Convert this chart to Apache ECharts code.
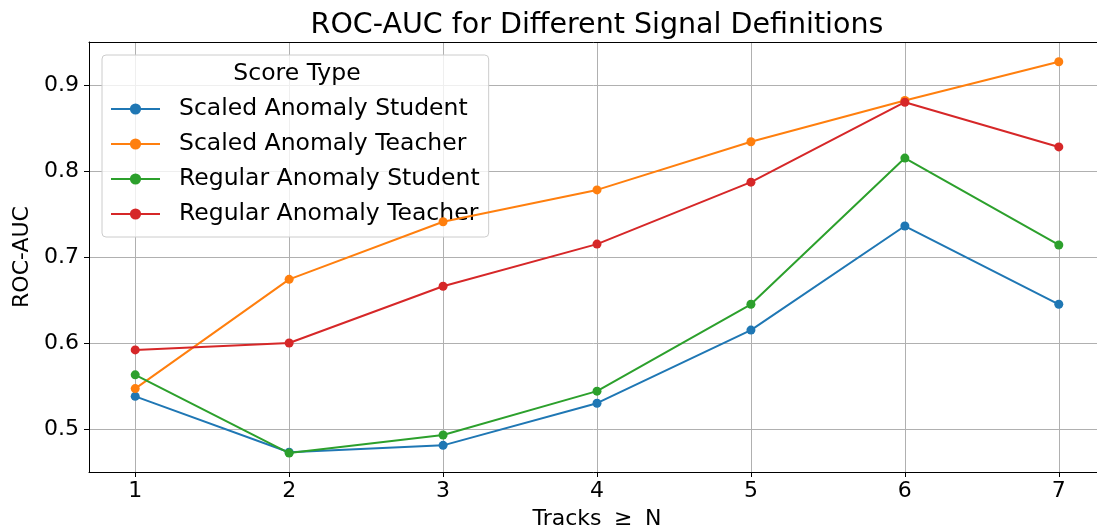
<!DOCTYPE html>
<html>
<head>
<meta charset="utf-8">
<script src="https://cdn.jsdelivr.net/npm/echarts@6/dist/echarts.min.js"></script>
<style>html,body{margin:0;padding:0;background:#fff;}#c{width:1097px;height:530px;}</style>
</head>
<body>
<div id="c"></div>
<script>
var tracks = [1, 2, 3, 4, 5, 6, 7];
var seriesNames = ['Scaled Anomaly Student', 'Scaled Anomaly Teacher', 'Regular Anomaly Student', 'Regular Anomaly Teacher'];
var scaledStudent = [0.538, 0.473, 0.481, 0.530, 0.615, 0.736, 0.645];
var scaledTeacher = [0.547, 0.674, 0.741, 0.778, 0.834, 0.882, 0.927];
var regularStudent = [0.563, 0.472, 0.493, 0.544, 0.645, 0.815, 0.714];
var regularTeacher = [0.592, 0.600, 0.666, 0.715, 0.787, 0.880, 0.828];
var yTicks = [0.5, 0.6, 0.7, 0.8, 0.9];
var colors = ['#1f77b4', '#ff7f0e', '#2ca02c', '#d62728'];
var allValues = [scaledStudent, scaledTeacher, regularStudent, regularTeacher];

var FONT = 'DejaVu Sans';
var chart = echarts.init(document.getElementById('c'));

function pairs(vals) { return tracks.map(function (t, i) { return [t, vals[i]]; }); }

var series = seriesNames.map(function (n, i) {
  return {
    name: n, type: 'line', xAxisIndex: 2, yAxisIndex: 1,
    data: pairs(allValues[i]),
    symbol: 'circle', symbolSize: 9, clip: false,
    lineStyle: { color: colors[i], width: 2 },
    itemStyle: { color: colors[i] },
    emphasis: { disabled: true },
    z: 3 + i
  };
});

var off = { show: false };
var option = {
  animation: false,
  textStyle: { fontFamily: FONT },
  title: {
    text: 'ROC-AUC for Different Signal Definitions',
    left: 597, top: 11, padding: 0, textAlign: 'center',
    textStyle: { fontFamily: FONT, fontSize: 28.5, fontWeight: 'normal', color: '#000' }
  },
  grid: [
    { left: 89, top: 42, width: 1016, height: 430, outerBoundsMode: 'none', containLabel: false },
    { left: 135.2, top: 42, width: 923.6, height: 430, outerBoundsMode: 'none', containLabel: false },
    { left: 89, top: 85, width: 1016, height: 344, outerBoundsMode: 'none', containLabel: false }
  ],
  xAxis: [
    { gridIndex: 0, type: 'value', min: 0, max: 1, position: 'bottom',
      axisLine: { show: true, onZero: false, lineStyle: { color: '#000', width: 1 } },
      axisTick: off, axisLabel: off, splitLine: off },
    { gridIndex: 0, type: 'value', min: 0, max: 1, position: 'top',
      axisLine: { show: true, onZero: false, lineStyle: { color: '#000', width: 1 } },
      axisTick: off, axisLabel: off, splitLine: off },
    { gridIndex: 1, type: 'value', min: 1, max: 7, interval: 1, position: 'bottom',
      axisLine: { show: false, onZero: false },
      axisTick: { show: true, length: 5, inside: false, lineStyle: { color: '#000', width: 1 } },
      axisLabel: { show: true, margin: 8, fontSize: 22, color: '#000', fontFamily: FONT },
      splitLine: { show: true, lineStyle: { color: '#b0b0b0', width: 1 } },
      name: 'Tracks \u2005\u2265\u2005 N', nameLocation: 'middle', nameGap: 36,
      nameTextStyle: { fontSize: 22, color: '#000', fontFamily: FONT } },
    { gridIndex: 2, type: 'value', min: 0, max: 1, show: false }
  ],
  yAxis: [
    { gridIndex: 0, type: 'value', min: 0, max: 1,
      axisLine: { show: true, onZero: false, lineStyle: { color: '#000', width: 1 } },
      axisTick: off, axisLabel: off, splitLine: off },
    { gridIndex: 1, type: 'value', min: 0.45, max: 0.95, show: false },
    { gridIndex: 2, type: 'value', min: yTicks[0], max: yTicks[yTicks.length - 1], interval: 0.1,
      axisLine: { show: false, onZero: false },
      axisTick: { show: true, length: 5, inside: false, lineStyle: { color: '#000', width: 1 } },
      axisLabel: { show: true, margin: 10, fontSize: 22, color: '#000', fontFamily: FONT,
        formatter: function (v) { return v.toFixed(1); } },
      splitLine: { show: true, lineStyle: { color: '#b0b0b0', width: 1 } },
      name: 'ROC-AUC', nameLocation: 'middle', nameGap: 48, nameRotate: 90,
      nameTextStyle: { fontSize: 22, color: '#000', fontFamily: FONT } }
  ],
  legend: {
    data: seriesNames,
    orient: 'vertical', left: 102, top: 55,
    padding: [42, 9, 11, 8],
    itemGap: 11, itemWidth: 49, itemHeight: 14,
    backgroundColor: 'rgba(255,255,255,0.8)',
    borderColor: '#cccccc', borderWidth: 1, borderRadius: 4,
    selectedMode: false,
    textStyle: { fontFamily: FONT, fontSize: 23.5, color: '#000', lineHeight: 24, padding: [0, 0, 0, 14] }
  },
  graphic: [
    { type: 'text', z: 100, x: 297, y: 74,
      style: { text: 'Score Type', fontFamily: FONT, fontSize: 23.5, fill: '#000',
        textAlign: 'center', textVerticalAlign: 'middle' } }
  ],
  series: series
};
chart.setOption(option);
</script>
</body>
</html>
